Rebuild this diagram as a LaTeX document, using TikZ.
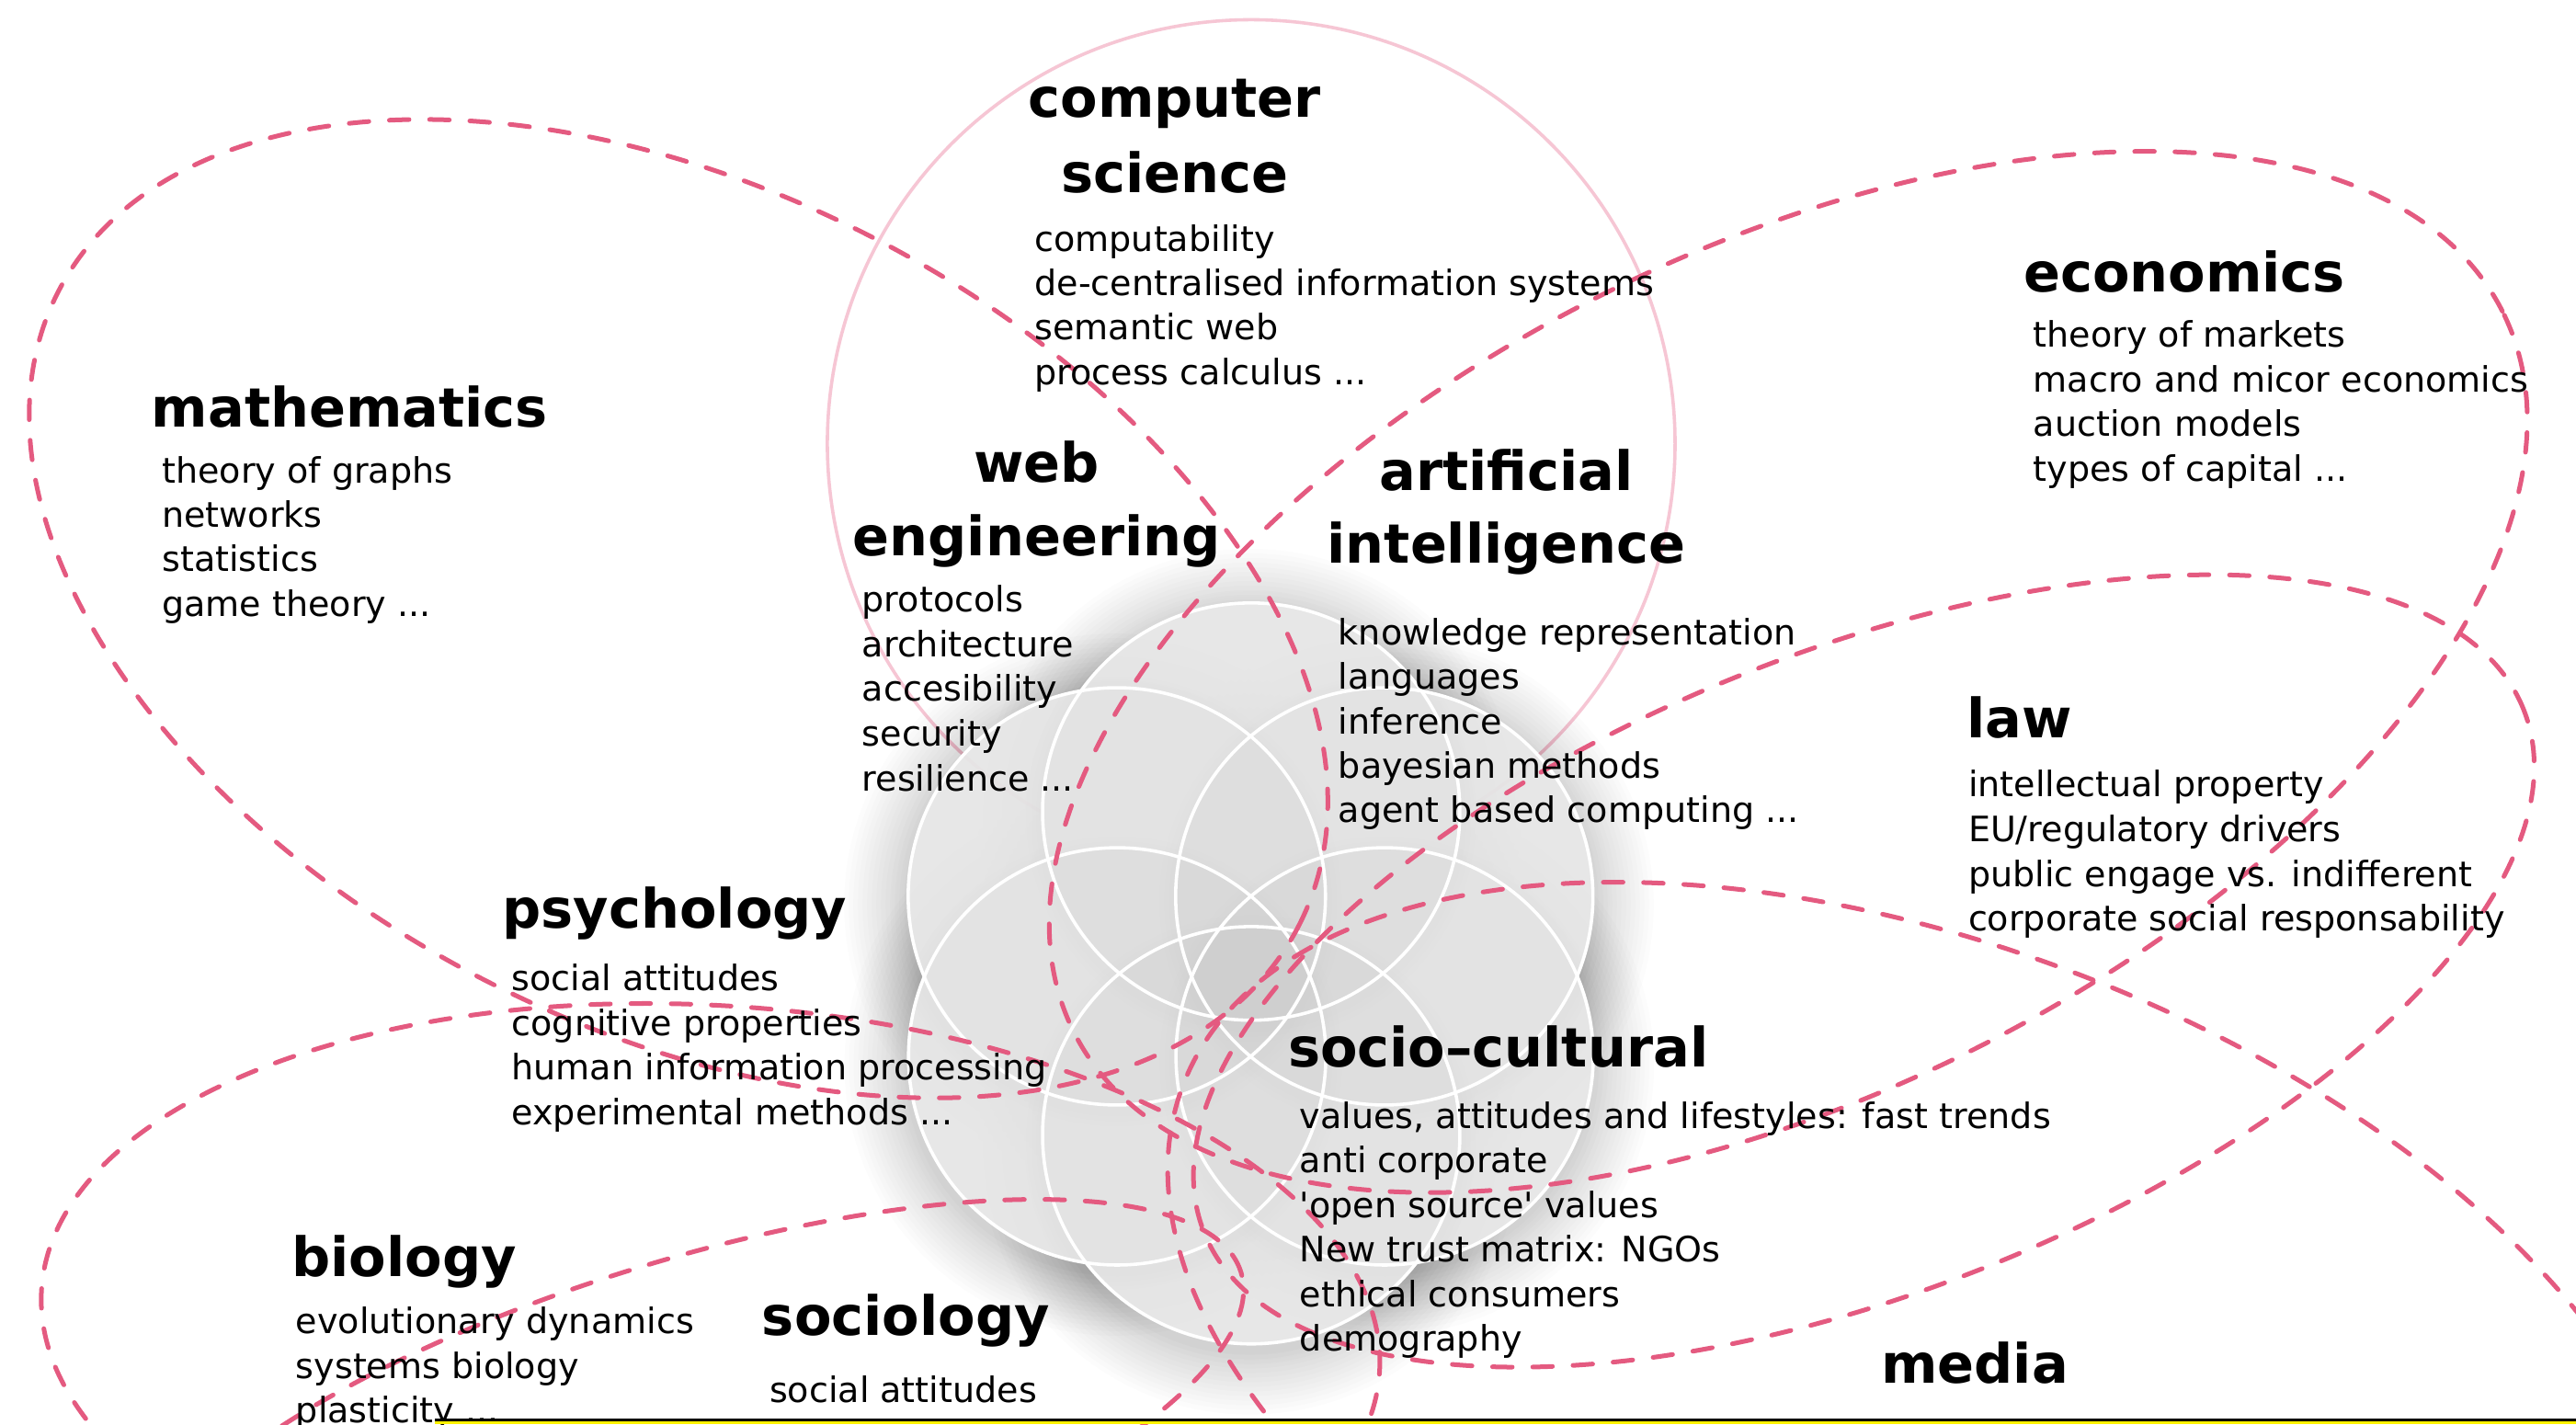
\documentclass[tikz,border=0pt]{standalone}
\usepackage{fontspec}
\setmainfont{DejaVu Sans}[Ligatures=TeXOff]
\definecolor{pk}{RGB}{228,90,128}
\definecolor{cspk}{RGB}{246,198,212}
\definecolor{fl}{RGB}{238,238,238}
\tikzset{
  hd/.style={font=\fontsize{33}{40}\selectfont\bfseries, inner sep=0pt, anchor=base},
  hdw/.style={hd, anchor=base west},
  itm/.style={font=\fontsize{21.3}{26}\selectfont, inner sep=0pt, anchor=base west},
  petal/.style={draw=pk, line width=2.8pt, dash pattern=on 12pt off 12.5pt, line cap=round},
  ring/.style={draw=white, line width=2pt},
}
\newcommand\petalE[5]{\draw[petal, rotate around={#5:(#1,#2)}] (#1,#2) ellipse [x radius=#3pt, y radius=#4pt];}
\begin{document}
\begin{tikzpicture}[x=1pt,y=-1pt]
\useasboundingbox (0,0) rectangle (1568,867);
\clip (0,0) rectangle (1568,867);
\fill[white] (0,0) rectangle (1568,867);
% computer science circle
\draw[cspk, line width=2pt] (761.6,270) circle [radius=258pt];
% flower of six circles
\coordinate (ct) at (761.6,494);
\coordinate (cur) at (842.6,545.6);
\coordinate (clr) at (842.8,643);
\coordinate (cb) at (761.6,691);
\coordinate (cll) at (680,643);
\coordinate (cul) at (679.8,545.6);
% soft outer shadow
\foreach \p in {ct,cur,clr,cb,cll,cul}{
  \foreach \k in {0,...,13}
    \fill[black, opacity=0.011] ([xshift=-1pt,yshift=-5pt]\p) circle [radius={165pt-2.8pt*\k}];
}
% light fills
\foreach \p in {ct,cur,clr,cb,cll,cul}
  \fill[fl, fill opacity=0.93] (\p) circle [radius=127pt];
% overlap darkening with soft inner shadows
\foreach \p in {ct,cur,clr,cb,cll,cul}{
  \fill[black, opacity=0.009] (\p) circle [radius=127pt];
  \foreach \k in {0,...,2}
    \fill[black, opacity=0.005] ([yshift=-3pt]\p) circle [radius={137pt-3pt*\k}];
}
\foreach \p in {ct,cur,clr,cb,cll,cul}
  \draw[ring] (\p) circle [radius=127pt];
% dashed petals: centre x, centre y, a, b, rotation
\petalE{413}{370.5}{424}{255}{-27}
\petalE{1088.5}{409}{487}{256}{26.8}
\petalE{1134.5}{591}{432}{195}{21.6}
\petalE{1173}{834}{485}{258}{-21}
\petalE{432.5}{810}{408}{198}{-3.5}
\petalE{420.7}{876.8}{350}{110}{17}
% computer science
\node[hd] (csA) at (715,71.4) {computer};
\node[hd] (csB) at (715,117) {science};
\node[itm] (cs1) at (629.6,153) {computability};
\node[itm] (cs2) at (629.6,180) {de-centralised information systems};
\node[itm] (cs3) at (629.6,207) {semantic web};
\node[itm] (cs4) at (629.6,234) {process calculus ...};
% mathematics
\node[hdw] (maH) at (92,260) {mathematics};
\node[itm] (ma1) at (98.5,294) {theory of graphs};
\node[itm] (ma2) at (98.5,321) {networks};
\node[itm] (ma3) at (98.5,348) {statistics};
\node[itm] (ma4) at (98.5,375) {game theory ...};
% web engineering
\node[hd] (weA) at (631,293.5) {web};
\node[hd] (weB) at (631,338) {engineering};
\node[itm] (we1) at (524.6,372.5) {protocols};
\node[itm] (we2) at (524.6,399.7) {architecture};
\node[itm] (we3) at (524.6,426.9) {accesibility};
\node[itm] (we4) at (524.6,454.1) {security};
\node[itm] (we5) at (524.6,481.3) {resilience ...};
% artificial intelligence
\node[hd] (aiA) at (917,298.4) {artificial};
\node[hd] (aiB) at (917,342.6) {intelligence};
\node[itm] (ai1) at (814.5,392.6) {knowledge representation};
\node[itm] (ai2) at (814.5,419.6) {languages};
\node[itm] (ai3) at (814.5,446.6) {inference};
\node[itm] (ai4) at (814.5,473.6) {bayesian methods};
\node[itm] (ai5) at (814.5,500.6) {agent based computing ...};
% economics
\node[hdw] (ecH) at (1231.5,177.6) {economics};
\node[itm] (ec1) at (1237.5,211.3) {theory of markets};
\node[itm] (ec2) at (1237.5,238.4) {macro and micor economics};
\node[itm] (ec3) at (1237.5,265.5) {auction models};
\node[itm] (ec4) at (1237.5,292.7) {types of capital ...};
% law
\node[hdw] (laH) at (1197,449) {law};
\node[itm] (la1) at (1197.9,485.1) {intellectual property};
\node[itm] (la2) at (1197.9,512.4) {EU/regulatory drivers};
\node[itm] (la3) at (1197.9,539.7) {public engage vs. indifferent};
\node[itm] (la4) at (1197.9,566.8) {corporate social responsability};
% psychology
\node[hdw] (psH) at (305.7,565) {psychology};
\node[itm] (ps1) at (311.3,602.8) {social attitudes};
\node[itm] (ps2) at (311.3,630.2) {cognitive properties};
\node[itm] (ps3) at (311.3,657.5) {human information processing};
\node[itm] (ps4) at (311.3,684.5) {experimental methods ...};
% socio-cultural
\node[hdw] (scH) at (783.8,649.3) {socio–cultural};
\node[itm] (sc1) at (791,687) {values, attitudes and lifestyles: fast trends};
\node[itm] (sc2) at (791,714) {anti corporate};
\node[itm] (sc3) at (791,741.2) {'open source' values};
\node[itm] (sc4) at (791,768.3) {New trust matrix: NGOs};
\node[itm] (sc5) at (791,795.3) {ethical consumers};
\node[itm] (sc6) at (791,822.3) {demography};
% biology
\node[hdw] (biH) at (177.4,777) {biology};
\node[itm] (bi1) at (179.9,811.8) {evolutionary dynamics};
\node[itm] (bi2) at (179.9,839) {systems biology};
\node[itm] (bi3) at (179.9,866.2) {plasticity ...};
% sociology
\node[hdw] (soH) at (463.7,812.6) {sociology};
\node[itm] (so1) at (468.2,853.5) {social attitudes};
% media
\node[hdw] (meH) at (1144.8,842) {media};
% bottom bar of the screenshot
\fill[black] (264.7,863.4) rectangle (1568,865.1);
\fill[yellow] (264.7,865.1) rectangle (1568,867);
\end{tikzpicture}
\end{document}
